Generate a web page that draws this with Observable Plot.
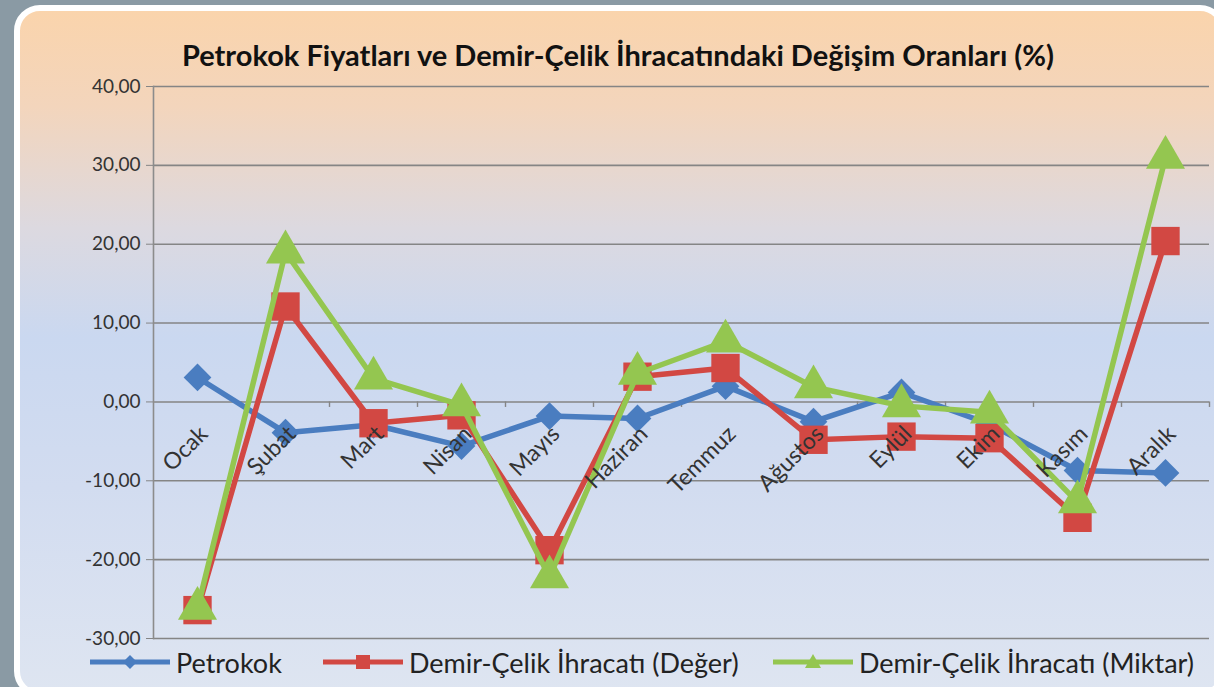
<!DOCTYPE html>
<html><head><meta charset="utf-8">
<script src="https://cdn.jsdelivr.net/npm/d3@7"></script>
<script src="https://cdn.jsdelivr.net/npm/@observablehq/plot@0.6"></script>
<style>
html,body{margin:0;padding:0;width:1214px;height:687px;overflow:hidden;background:#8a9aa4;font-family:Lato,"Open Sans",sans-serif;}
#frame{position:absolute;left:14px;top:5px;width:1212px;height:692px;border:6px solid #fff;border-radius:26px;box-sizing:border-box;
 background:linear-gradient(180deg,#fad4ac 0%,#f3d5bc 14%,#dcd9e0 32%,#cad8f0 48%,#d2dcf0 70%,#dee5f1 100%);}
#chart{position:absolute;left:0;top:0;}
#title{position:absolute;top:37px;left:0;width:1236px;text-align:center;font-weight:bold;font-size:29px;line-height:36px;color:#111;letter-spacing:0px;}
#legend{position:absolute;top:646px;left:0;width:1214px;height:32px;font-size:27px;color:#222;}
.li{position:absolute;top:0;display:flex;align-items:center;height:32px;}
.li svg{margin-right:4px;}
</style></head>
<body>
<div id="frame"></div>
<div id="chart"></div>
<div id="title">Petrokok Fiyatları ve Demir-Çelik İhracatındaki Değişim Oranları (%)</div>
<div id="legend"></div>
<script>
const months = ["Ocak","Şubat","Mart","Nisan","Mayıs","Haziran","Temmuz","Ağustos","Eylül","Ekim","Kasım","Aralık"];
const petrokok = [3.1, -3.9, -2.9, -5.6, -1.8, -2.1, 2.0, -2.5, 1.2, -2.8, -8.7, -9.0];
const deger    = [-26.4, 12.1, -2.7, -1.7, -18.8, 3.2, 4.3, -4.8, -4.4, -4.6, -14.7, 20.4];
const miktar   = [-26.2, 19.0, 3.0, -0.4, -22.2, 3.6, 7.7, 1.9, -0.5, -1.3, -12.7, 31.0];
const yTicks = [-30, -20, -10, 0, 10, 20, 30, 40];
const seriesNames = ["Petrokok", "Demir-Çelik İhracatı (Değer)", "Demir-Çelik İhracatı (Miktar)"];
const seriesColors = ["#4a7dc0", "#d24843", "#94c650"];
const seriesSymbols = ["diamond2", "square", "triangle"];
const seriesR = [12.5, 16, 14.5];
const seriesValues = [petrokok, deger, miktar];

const W = 1214, H = 687;
const mLeft = 153, mRight = 5, mTop = 86, mBottom = 49;
const step = (W - mLeft - mRight) / months.length;

const fmt = d => (d < 0 ? "-" : "") + Math.abs(d).toFixed(2).replace(".", ",");

const marks = [
  Plot.ruleY(yTicks, {y: d => d, stroke: "#858585", strokeWidth: 1.6}),
  Plot.frame({anchor: "left", stroke: "#8c8c8c", strokeWidth: 1.6}),
  Plot.axisY({ticks: yTicks, tickFormat: fmt, tickSize: 7, tickPadding: 6, fontSize: 19, stroke: "#858585", fill: "#333", label: null}),
  Plot.ruleX(months, {x: d => d, y1: 0, y2: -0.7, dx: step / 2, stroke: "#858585", strokeWidth: 1.4})
];
seriesValues.forEach((vals, i) => {
  const rows = months.map((m, j) => ({month: m, value: vals[j]}));
  marks.push(Plot.line(rows, {x: "month", y: "value", stroke: seriesColors[i], strokeWidth: 5.5}));
  marks.push(Plot.dot(rows, {x: "month", y: "value", symbol: seriesSymbols[i], r: seriesR[i], fill: seriesColors[i], stroke: "none"}));
});
marks.push(Plot.text(months, {x: d => d, y: () => 0, text: d => d, rotate: -45, textAnchor: "end", lineAnchor: "top", dx: 0, dy: 22, fontSize: 23, fill: "#333"}));

const chart = Plot.plot({
  width: W, height: H,
  marginLeft: mLeft, marginRight: mRight, marginTop: mTop, marginBottom: mBottom,
  style: {background: "transparent", fontFamily: "Lato, 'Open Sans', sans-serif", overflow: "visible"},
  x: {type: "point", domain: months, padding: 0.5, axis: null},
  y: {domain: [-30, 40], axis: null},
  marks
});
document.getElementById("chart").appendChild(chart);

// legend
const legendPos = [90, 323, 773];
const leg = document.getElementById("legend");
seriesNames.forEach((name, i) => {
  const div = document.createElement("div");
  div.className = "li";
  div.style.left = legendPos[i] + "px";
  const c = seriesColors[i];
  let sym;
  if (i === 0) sym = `<path d="M40,9 L47,16 L40,23 L33,16Z" fill="${c}"/>`;
  else if (i === 1) sym = `<rect x="33" y="9" width="14" height="14" fill="${c}"/>`;
  else sym = `<path d="M40,8 L48,22 L32,22Z" fill="${c}"/>`;
  div.innerHTML = `<svg width="82" height="32"><line x1="0" y1="16" x2="80" y2="16" stroke="${c}" stroke-width="5"/>${sym}</svg><span>${name}</span>`;
  leg.appendChild(div);
});
</script>
</body></html>
